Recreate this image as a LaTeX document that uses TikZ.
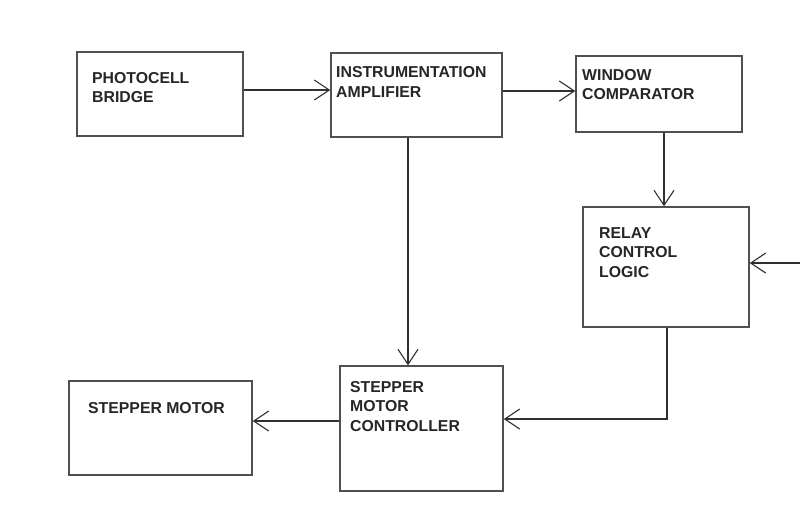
\documentclass[tikz,border=0pt]{standalone}
\usepackage{fontspec}
\setmainfont{Liberation Sans}
\usetikzlibrary{arrows.meta}
\definecolor{boxline}{HTML}{505050}
\definecolor{conline}{HTML}{303030}
\definecolor{txtcol}{HTML}{262626}
\tikzset{
  blk/.style={draw=boxline, line width=1.5pt, rectangle, inner sep=0pt, fill=white},
  txt/.style={inner sep=0pt, anchor=base west, text=txtcol, font=\fontsize{15.8}{19}\selectfont\bfseries},
  arr/.style={draw=conline, line width=1.3pt, -{Straight Barb[length=15pt,width=20pt,line width=1.1pt]}},
  con/.style={draw=conline, line width=1.3pt}
}
\begin{document}
\begin{tikzpicture}[x=1pt,y=-1pt]
\useasboundingbox[fill=white] (0,0) rectangle (800,531);
% boxes
\node[blk, minimum width=166pt, minimum height=84pt] (pb) at (160,94) {};
\node[blk, minimum width=171pt, minimum height=84pt] (ia) at (416.5,95) {};
\node[blk, minimum width=166pt, minimum height=76pt] (wc) at (659,94) {};
\node[blk, minimum width=166pt, minimum height=120pt] (rc) at (666,267) {};
\node[blk, minimum width=163pt, minimum height=125pt] (smc) at (421.5,428.5) {};
\node[blk, minimum width=183pt, minimum height=94pt] (sm) at (160.5,428) {};
% texts
\node[txt] (pb1) at (92,83) {PHOTOCELL};
\node[txt] (pb2) at (92,102.5) {BRIDGE};
\node[txt] (ia1) at (336,77.5) {INSTRUMENTATION};
\node[txt] (ia2) at (336,97) {AMPLIFIER};
\node[txt] (wc1) at (582,80) {WINDOW};
\node[txt] (wc2) at (582,99.5) {COMPARATOR};
\node[txt] (rc1) at (599,238) {RELAY};
\node[txt] (rc2) at (599,257.5) {CONTROL};
\node[txt] (rc3) at (599,277) {LOGIC};
\node[txt] (sm1) at (88,413) {STEPPER MOTOR};
\node[txt] (smc1) at (350,392) {STEPPER};
\node[txt] (smc2) at (350,411.5) {MOTOR};
\node[txt] (smc3) at (350,431) {CONTROLLER};
% connectors
\coordinate (ext) at (800,263);
\coordinate (bend) at (667,419);
\draw[arr] (pb.east |- 0,90) -- (ia.west |- 0,90);
\draw[arr] (ia.east |- 0,91) -- (wc.west |- 0,91);
\draw[arr] (wc.south -| 664,0) -- (rc.north -| 664,0);
\draw[arr] (ia.south -| 408,0) -- (smc.north -| 408,0);
\draw[arr] (ext) -- (rc.east |- ext);
\draw[arr] (rc.south -| bend) -- (bend) -- (smc.east |- bend);
\draw[arr] (smc.west |- 0,421) -- (sm.east |- 0,421);
\end{tikzpicture}
\end{document}
